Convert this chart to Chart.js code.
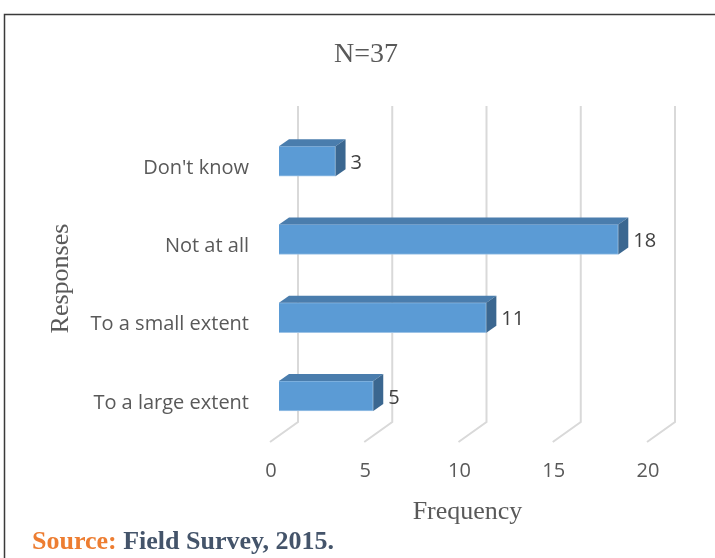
<!DOCTYPE html>
<html lang="en">
<head>
    <meta charset="UTF-8">
    <title>Responses</title>
    <script src="https://cdn.jsdelivr.net/npm/chart.js"></script>
    <style>
        body { margin: 0; background: #fff; }
        canvas { display: block; }
    </style>
</head>
<body>
    <canvas id="responseChart" width="715" height="558"></canvas>

    <script>
        const responses = ["Don't know", 'Not at all', 'To a small extent', 'To a large extent'];
        const frequency = [3, 18, 11, 5];
        const freqTicks = [0, 5, 10, 15, 20];

        const DX = 10, DY = 7;          // bar depth
        const GX = 28, GY = 20;         // floor depth of the gridlines

        // frame, title and source note
        const decorations = {
            id: 'decorations',
            beforeDraw(chart) {
                const ctx = chart.ctx;
                ctx.save();
                ctx.strokeStyle = '#3a3a3a';
                ctx.lineWidth = 1.5;
                ctx.beginPath();
                ctx.moveTo(4.5, 560);
                ctx.lineTo(4.5, 14.5);
                ctx.lineTo(716, 14.5);
                ctx.stroke();

                ctx.fillStyle = '#595959';
                ctx.font = '28px "Liberation Serif"';
                ctx.textAlign = 'center';
                ctx.textBaseline = 'alphabetic';
                ctx.fillText('N=37', 366, 62);

                ctx.font = 'bold 26px "Liberation Serif"';
                ctx.textAlign = 'left';
                ctx.fillStyle = '#ED7D31';
                ctx.fillText('Source:', 32, 549);
                const w = ctx.measureText('Source: ').width;
                ctx.fillStyle = '#44546A';
                ctx.fillText('Field Survey, 2015.', 32 + w, 549);
                ctx.restore();
            },
            // 3D gridlines: back wall plus floor diagonal
            beforeDatasetsDraw(chart) {
                const {ctx, chartArea, scales: {x}} = chart;
                ctx.save();
                ctx.strokeStyle = '#d9d9d9';
                ctx.lineWidth = 2;
                x.ticks.forEach(t => {
                    const px = x.getPixelForValue(t.value);
                    ctx.beginPath();
                    ctx.moveTo(px + 19, chartArea.top - 16);
                    ctx.lineTo(px + 19, chartArea.bottom - 13);
                    ctx.lineTo(px + 19 - GX, chartArea.bottom - 13 + GY);
                    ctx.stroke();
                });
                ctx.restore();
            },
            // top and side faces of the bars, then value labels
            afterDatasetsDraw(chart) {
                const ctx = chart.ctx;
                const meta = chart.getDatasetMeta(0);
                ctx.save();
                meta.data.forEach((bar, i) => {
                    const top = bar.y - bar.height / 2;
                    const bottom = bar.y + bar.height / 2;
                    ctx.fillStyle = '#4a7dad';
                    ctx.beginPath();
                    ctx.moveTo(bar.base, top);
                    ctx.lineTo(bar.x, top);
                    ctx.lineTo(bar.x + DX, top - DY);
                    ctx.lineTo(bar.base + DX, top - DY);
                    ctx.closePath();
                    ctx.fill();

                    ctx.fillStyle = '#3b6790';
                    ctx.beginPath();
                    ctx.moveTo(bar.x, top);
                    ctx.lineTo(bar.x + DX, top - DY);
                    ctx.lineTo(bar.x + DX, bottom - DY);
                    ctx.lineTo(bar.x, bottom);
                    ctx.closePath();
                    ctx.fill();

                    ctx.fillStyle = '#404040';
                    ctx.font = '20px "Open Sans"';
                    ctx.textAlign = 'left';
                    ctx.textBaseline = 'middle';
                    ctx.fillText(frequency[i], bar.x + DX + 5, bar.y + 2);
                });
                ctx.restore();
            }
        };

        new Chart(document.getElementById('responseChart'), {
            type: 'bar',
            data: {
                labels: responses,
                datasets: [{
                    data: frequency,
                    backgroundColor: '#5b9bd5',
                    borderColor: '#9dc3e6',
                    borderWidth: 1,
                    barThickness: 30
                }]
            },
            options: {
                indexAxis: 'y',
                responsive: false,
                animation: false,
                layout: { padding: { left: 0, top: 122, right: 59, bottom: 30 } },
                plugins: {
                    legend: { display: false },
                    tooltip: { enabled: false }
                },
                scales: {
                    x: {
                        min: 0,
                        max: 20,
                        afterBuildTicks: s => { s.ticks = freqTicks.map(v => ({ value: v })); },
                        afterFit: s => { s.height = 93; },
                        grid: { display: false },
                        border: { display: false },
                        ticks: {
                            color: '#595959',
                            font: { family: 'Open Sans', size: 20 },
                            padding: 16,
                            labelOffset: -8
                        },
                        title: {
                            display: true,
                            text: 'Frequency',
                            color: '#595959',
                            font: { family: 'Liberation Serif', size: 26 },
                            padding: { top: 0, bottom: 0 }
                        }
                    },
                    y: {
                        grid: { display: false },
                        border: { display: false },
                        afterFit: s => { s.width = 279; },
                        ticks: {
                            color: '#595959',
                            font: { family: 'Open Sans', size: 20 },
                            padding: 22,
                            labelOffset: 7
                        },
                        title: {
                            display: true,
                            text: 'Responses',
                            color: '#595959',
                            font: { family: 'Liberation Serif', size: 26 },
                            padding: { top: 46 }
                        }
                    }
                }
            },
            plugins: [decorations]
        });
    </script>
</body>
</html>
